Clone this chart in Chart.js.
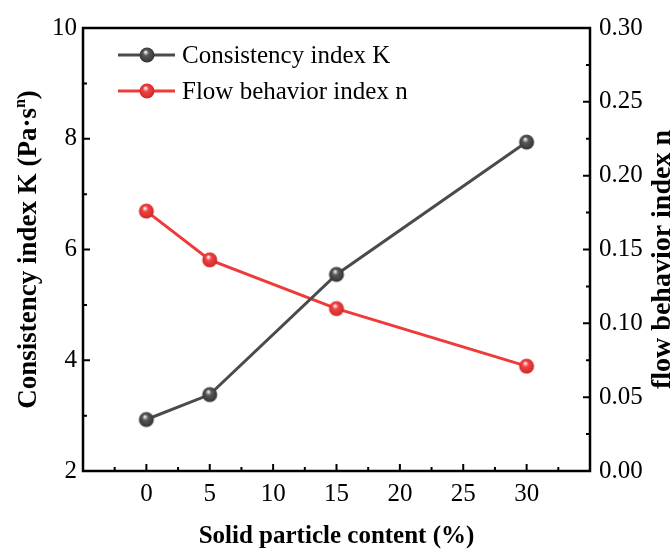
<!DOCTYPE html>
<html>
<head>
<meta charset="utf-8">
<script src="https://cdn.jsdelivr.net/npm/chart.js@4.4.1/dist/chart.umd.min.js"></script>
<style>
  html, body { margin: 0; padding: 0; background: #fff; }
  #c { display: block; }
</style>
</head>
<body>
<canvas id="c" width="672" height="549"></canvas>
<script>
// solid particle content (%)
const contents = [0, 5, 15, 30];
// consistency index K (Pa·s^n), left axis
const consistencyK = [2.93, 3.38, 5.55, 7.94];
// flow behavior index n, right axis
const flowIndexN = [0.176, 0.143, 0.110, 0.071];

const seriesNames = ["Consistency index K", "Flow behavior index n"];
const xTitle = "Solid particle content (%)";
const yTitle = "Consistency index K (Pa·s";
const y1Title = "flow behavior index n";

const grayLine = "#4b4b4b";
const redLine = "#f03a3a";
const serif = '"Liberation Serif", "Times New Roman", serif';

// little shaded ball used as point marker
function ball(base, dark, light) {
  const r = 7.5;
  const cv = document.createElement("canvas");
  cv.width = cv.height = 18;
  const c = 9;
  const g = cv.getContext("2d");
  const grad = g.createRadialGradient(c - 1.5, c - 3, 0.5, c, c, r + 1);
  grad.addColorStop(0, light);
  grad.addColorStop(0.3, base);
  grad.addColorStop(1, dark);
  g.fillStyle = grad;
  g.beginPath();
  g.arc(c, c, r, 0, Math.PI * 2);
  g.fill();
  return cv;
}
const grayBall = ball("#585858", "#2e2e2e", "#f0f0f0");
const redBall = ball("#f24444", "#c82424", "#fff0f0");

const isMult = (v, step) => Math.abs(v / step - Math.round(v / step)) < 1e-6;

const framePlugin = {
  id: "frame",
  afterDraw(chart) {
    const { ctx, chartArea: a, scales } = chart;
    ctx.save();
    ctx.strokeStyle = "#000";
    ctx.lineWidth = 2.5;
    ctx.strokeRect(a.left, a.top, a.right - a.left, a.bottom - a.top);

    ctx.lineWidth = 2;
    ctx.beginPath();
    scales.x.ticks.forEach((t) => {
      const px = scales.x.getPixelForValue(t.value);
      if (px <= a.left + 1 || px >= a.right - 1) return;
      const len = isMult(t.value, 5) ? 7 : 4;
      ctx.moveTo(px, a.bottom);
      ctx.lineTo(px, a.bottom - len);
    });
    scales.y.ticks.forEach((t) => {
      const py = scales.y.getPixelForValue(t.value);
      if (py <= a.top + 1 || py >= a.bottom - 1) return;
      const len = isMult(t.value, 2) ? 7 : 4;
      ctx.moveTo(a.left, py);
      ctx.lineTo(a.left + len, py);
    });
    scales.y1.ticks.forEach((t) => {
      const py = scales.y1.getPixelForValue(t.value);
      if (py <= a.top + 1 || py >= a.bottom - 1) return;
      const len = isMult(t.value, 0.05) ? 7 : 4;
      ctx.moveTo(a.right, py);
      ctx.lineTo(a.right - len, py);
    });
    ctx.stroke();

    // legend
    const items = [
      { name: seriesNames[0], color: grayLine, img: grayBall, y: 55 },
      { name: seriesNames[1], color: redLine, img: redBall, y: 91 },
    ];
    ctx.font = "25px " + serif;
    ctx.textBaseline = "middle";
    ctx.fillStyle = "#000";
    items.forEach((it) => {
      ctx.strokeStyle = it.color;
      ctx.lineWidth = 3;
      ctx.beginPath();
      ctx.moveTo(118, it.y);
      ctx.lineTo(175, it.y);
      ctx.stroke();
      ctx.drawImage(it.img, 147 - it.img.width / 2, it.y - it.img.height / 2);
      ctx.fillText(it.name, 182, it.y + 1);
    });

    // axis titles
    ctx.fillStyle = "#000";
    ctx.textBaseline = "alphabetic";
    ctx.textAlign = "center";
    ctx.font = "bold 25px " + serif;
    ctx.fillText(xTitle, (a.left + a.right) / 2, 543);

    const cy = (a.top + a.bottom) / 2;
    ctx.save();
    ctx.translate(36, cy);
    ctx.rotate(-Math.PI / 2);
    ctx.textAlign = "left";
    ctx.font = "bold 27px " + serif;
    const w1 = ctx.measureText(yTitle).width;
    const w3 = ctx.measureText(")").width;
    ctx.font = "bold 16px " + serif;
    const w2 = ctx.measureText("n").width;
    let x0 = -(w1 + w2 + w3) / 2;
    ctx.font = "bold 27px " + serif;
    ctx.fillText(yTitle, x0, 0);
    ctx.font = "bold 16px " + serif;
    ctx.fillText("n", x0 + w1, -11);
    ctx.font = "bold 27px " + serif;
    ctx.fillText(")", x0 + w1 + w2, 0);
    ctx.restore();

    ctx.save();
    ctx.translate(670, cy + 10);
    ctx.rotate(-Math.PI / 2);
    ctx.textAlign = "center";
    ctx.font = "bold 28px " + serif;
    ctx.fillText(y1Title, 0, 0);
    ctx.restore();

    ctx.restore();
  },
};

new Chart(document.getElementById("c"), {
  type: "line",
  data: {
    datasets: [
      {
        label: seriesNames[0],
        data: contents.map((x, i) => ({ x, y: consistencyK[i] })),
        yAxisID: "y",
        borderColor: grayLine,
        borderWidth: 3,
        pointStyle: grayBall,
        tension: 0,
      },
      {
        label: seriesNames[1],
        data: contents.map((x, i) => ({ x, y: flowIndexN[i] })),
        yAxisID: "y1",
        borderColor: redLine,
        borderWidth: 3,
        pointStyle: redBall,
        tension: 0,
      },
    ],
  },
  options: {
    responsive: false,
    animation: false,
    layout: { padding: { top: 28, left: 0, right: 0, bottom: 0 } },
    plugins: { legend: { display: false }, tooltip: { enabled: false } },
    scales: {
      x: {
        type: "linear",
        min: -5,
        max: 35,
        grid: { display: false, drawTicks: false },
        border: { display: false },
        afterFit: (s) => { s.height = 78; },
        ticks: {
          stepSize: 2.5,
          autoSkip: false,
          maxRotation: 0,
          padding: 8,
          color: "#000",
          font: { family: serif, size: 25 },
          callback: (v) => (isMult(v, 5) && v > -5 && v < 35 ? String(v) : ""),
        },
      },
      y: {
        position: "left",
        min: 2,
        max: 10,
        grid: { display: false, drawTicks: false },
        border: { display: false },
        afterFit: (s) => { s.width = 83; },
        ticks: {
          stepSize: 1,
          autoSkip: false,
          padding: 6,
          color: "#000",
          font: { family: serif, size: 25 },
          callback: (v) => (isMult(v, 2) ? String(v) : ""),
        },
      },
      y1: {
        position: "right",
        min: 0,
        max: 0.3,
        grid: { display: false, drawTicks: false },
        border: { display: false },
        afterFit: (s) => { s.width = 82; },
        ticks: {
          stepSize: 0.025,
          autoSkip: false,
          padding: 9,
          color: "#000",
          font: { family: serif, size: 25 },
          callback: (v) => (isMult(v, 0.05) ? v.toFixed(2) : ""),
        },
      },
    },
  },
  plugins: [framePlugin],
});
</script>
</body>
</html>
